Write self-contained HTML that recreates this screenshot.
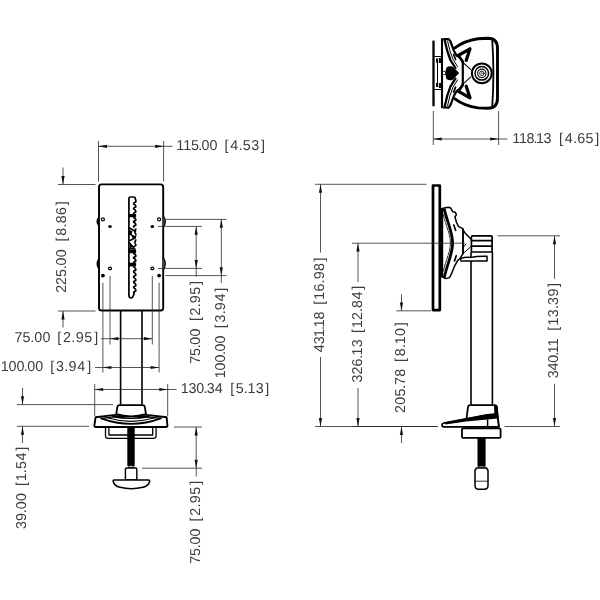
<!DOCTYPE html>
<html lang="en"><head><meta charset="utf-8"><title>Mount dimensions</title>
<style>
html,body{margin:0;padding:0;background:#fff;}
body{width:600px;height:600px;overflow:hidden;}
svg{display:block;will-change:transform;}
text{font-family:"Liberation Sans",sans-serif;font-size:14.3px;fill:#3c3c3c;text-rendering:geometricPrecision;white-space:pre;}
.d{stroke:#2a2a2a;stroke-width:.8;fill:none;}
.ah{fill:#111;stroke:none;}
.o{stroke:#000;stroke-width:1.4;fill:none;stroke-linejoin:round;stroke-linecap:round;}
.o2{stroke:#000;stroke-width:2;fill:none;stroke-linejoin:round;}
.t{stroke:#000;stroke-width:.8;fill:none;stroke-linejoin:round;stroke-linecap:round;}
.f{fill:#000;stroke:none;}
.w{fill:#fff;stroke:#000;stroke-width:1.4;stroke-linejoin:round;}
</style></head><body>
<svg width="600" height="600" viewBox="0 0 600 600">
<rect width="600" height="600" fill="#fff"/>
<g id="front">
<rect class="o" style="stroke-width:1.9" x="99" y="184.4" width="64.2" height="126.1" rx="2.6"/>
<path class="f" d="M99 216 Q94 221.5 99 227 Z"/>
<path class="t" style="stroke-width:1.2;fill:#666" d="M163.4 216 Q167.2 221.5 163.4 227"/>
<path class="f" d="M99 257.5 Q94 263.75 99 270 Z"/>
<path class="t" style="stroke-width:1.2;fill:#666" d="M163.4 257.5 Q167.2 263.75 163.4 270"/>
<circle class="t" style="stroke-width:1.2" cx="102.9" cy="219.4" r="1.5"/>
<circle class="f" cx="102.9" cy="275.6" r="1.9"/>
<circle class="t" style="stroke-width:1.2" cx="159.1" cy="219.4" r="1.5"/>
<circle class="f" cx="159.1" cy="275.6" r="1.9"/>
<ellipse class="f" cx="110" cy="226.4" rx="1.8" ry="1.5"/>
<ellipse class="t" style="stroke-width:1.2" cx="110" cy="268.4" rx="1.5" ry="1.3"/>
<ellipse class="f" cx="152.3" cy="226.4" rx="1.8" ry="1.5"/>
<ellipse class="t" style="stroke-width:1.2" cx="152.3" cy="268.4" rx="1.5" ry="1.3"/>
<path class="t" style="stroke-width:1.7" d="M128.9 198.5 Q128.9 197 130.5 197 L133.6 197 Q135.6 197 135.2 199 Q136.29999999999998 200.25 135.7 202.00 Q133.1 203.00 133.8 204.00 Q136.29999999999998 205.25 135.7 207.00 Q133.1 208.00 133.8 209.00 Q136.29999999999998 210.25 135.7 212.00 Q133.1 213.00 133.8 214.00 M128.9 198.5 L128.9 295 Q129 298 131 298 Q133 298 134.2 293 M133.8 217.5 Q136.29999999999998 218.69 135.7 220.35 Q133.1 221.30 133.8 222.25 Q136.29999999999998 223.44 135.7 225.10 Q133.1 226.05 133.8 227.00 M133.8 253.5 Q136.29999999999998 254.69 135.7 256.35 Q133.1 257.30 133.8 258.25 Q136.29999999999998 259.44 135.7 261.10 Q133.1 262.05 133.8 263.00 M133.8 267 Q136.29999999999998 268.30 135.7 270.12 Q133.1 271.16 133.8 272.20 Q136.29999999999998 273.50 135.7 275.32 Q133.1 276.36 133.8 277.40 Q136.29999999999998 278.70 135.7 280.52 Q133.1 281.56 133.8 282.60 Q136.29999999999998 283.90 135.7 285.72 Q133.1 286.76 133.8 287.80 Q136.29999999999998 289.10 135.7 290.92 Q133.1 291.96 133.8 293.00"/>
<path class="f" d="M128.5 214h7.6v3.3h-7.6z M128.5 249.6h7.6v3.6h-7.6z M128.5 262.8h7.6v3.6h-7.6z"/>
<path class="t" style="stroke-width:1.6" d="M129.5 228 L135.5 231.5 M135.8 229 Q134 232 136 234.5 M129.5 233 L134 237.5 L135.8 236 M130 240.5 L135 238 M129.6 243 L133.5 247.5 L136 245 M135.8 240 Q134 242.5 136 245 M129.8 248.5 L135 249"/>
<path class="f" d="M129 229.5 L132.5 231.5 L131 235 L129 235 Z M130 244 L133 246.5 L130 248.8 Z M133.5 235 a2 2 0 1 0 2.6 2.6 Z"/>
<path class="o" style="stroke-width:1.6;stroke-linecap:butt" d="M120.6 311 L120.6 404.5 M142 311 L142 404.5"/>
<path class="w" style="stroke-width:1.9" d="M95.6 417.2 Q131 411.5 166.6 417.2 L167.4 425.5 Q167.6 427 166 427 L95.8 427 Q94.2 427 94.4 425.5 Z"/>
<path class="t" style="stroke-width:1.8" d="M101.2 418.4 Q131 429.4 160.8 418.4"/>
<path class="t" style="stroke-width:1.3" d="M108 418 Q131 424.6 154 418 M101.2 418.4 Q131 414 160.8 418.4"/>
<path class="t" style="stroke-width:1.6" d="M113 416.6 Q131 420 149 416.6"/>
<path class="w" style="stroke-width:1.8" d="M116.2 414.2 L117.4 406.8 Q117.8 405.2 119.6 405.2 L142.6 405.2 Q144.4 405.2 144.8 406.8 L146 414.2 Q131 418.4 116.2 414.2 Z"/>
<path class="t" style="stroke-width:1.3" d="M105.5 427.8 L105.5 435.8 Q105.5 438.3 108 438.3 L153.6 438.3 Q156.1 438.3 156.1 435.8 L156.1 427.8 M108.9 427.8 L108.9 435 L152.7 435 L152.7 427.8"/>
<rect class="f" x="127.3" y="427.5" width="7.4" height="38.4"/>
<rect x="128.8" y="465.6" width="4.6" height="2.2" fill="#bbb" stroke="#000" stroke-width=".7"/>
<rect class="w" style="stroke-width:1.4" x="125.4" y="468" width="11.4" height="12" rx="1"/>
<path class="w" style="stroke-width:1.5" d="M114 480 L148.6 480 Q149.8 480 149.6 481.5 Q148.5 486 143 487.3 Q131 490 120 487.3 Q114.3 486 113.2 481.5 Q113 480 114 480 Z"/>
</g>
<g id="dims-front">
<path class="d" d="M98.5 141L98.5 181.5"/>
<path class="d" d="M163.6 141L163.6 181.5"/>
<path class="d" d="M98.5 146.3L172.5 146.3"/>
<path class="ah" d="M98.5 146.3L106.9 144.70000000000002L106.9 147.9Z"/>
<path class="ah" d="M163.6 146.3L155.2 144.70000000000002L155.2 147.9Z"/>
<text x="176.13 183.27 190.92 198.21 201.58 209.4 216.9 224.4 230.37 238.69 242.86 251.32 260.93" y="149.75">115.00 [4.53]</text>
<path class="d" d="M58 184.5L95.5 184.5"/>
<path class="d" d="M58 311L95.5 311"/>
<path class="d" d="M63 167.5L63 184.5"/>
<path class="ah" d="M63 184.5L61.4 176.1L64.6 176.1Z"/>
<path class="d" d="M63 311L63 327.5"/>
<path class="ah" d="M63 311L61.4 319.4L64.6 319.4Z"/>
<text transform="translate(66.4 0) rotate(-90)" x="-292.81 -284.97 -276.98 -269.26 -265.47 -257.3 -249.35 -241.4 -235.68 -227.5 -223.33 -215.02 -205.37" y="0">225.00 [8.86]</text>
<path class="d" d="M165.3 219.4L226.5 219.4"/>
<path class="d" d="M158 226.4L202 226.4"/>
<path class="d" d="M158 268.4L202 268.4"/>
<path class="d" d="M165.3 275.6L226.5 275.6"/>
<path class="d" d="M196.2 226.4L196.2 276.5"/>
<path class="ah" d="M196.2 226.4L194.6 234.8L197.79999999999998 234.8Z"/>
<path class="ah" d="M196.2 268.4L194.6 260.0L197.79999999999998 260.0Z"/>
<path class="d" d="M221.3 219.4L221.3 283"/>
<path class="ah" d="M221.3 219.4L219.70000000000002 227.8L222.9 227.8Z"/>
<path class="ah" d="M221.3 275.6L219.70000000000002 267.20000000000005L222.9 267.20000000000005Z"/>
<text transform="translate(200 0) rotate(-90)" x="-363.81 -355.93 -348.33 -344.66 -336.6 -328.85 -321.1 -315.45 -307.36 -303.19 -294.79 -285.07" y="0">75.00 [2.95]</text>
<text transform="translate(224.8 0) rotate(-90)" x="-378.37 -370.56 -362.6 -355.09 -351.56 -343.6 -335.95 -328.3 -322.49 -314.34 -310.19 -301.55 -291.67" y="0">100.00 [3.94]</text>
<path class="d" d="M102.9 282.7L102.9 372.5"/>
<path class="d" d="M159.1 282.7L159.1 372.5"/>
<path class="d" d="M110 276L110 344.5"/>
<path class="d" d="M152.3 276L152.3 344.5"/>
<path class="d" d="M101 338.7L152.3 338.7"/>
<path class="ah" d="M110 338.7L118.4 337.09999999999997L118.4 340.3Z"/>
<path class="ah" d="M152.3 338.7L143.9 337.09999999999997L143.9 340.3Z"/>
<path class="d" d="M95 367.5L159.1 367.5"/>
<path class="ah" d="M102.9 367.5L111.30000000000001 365.9L111.30000000000001 369.1Z"/>
<path class="ah" d="M159.1 367.5L150.7 365.9L150.7 369.1Z"/>
<text x="14.49 22.53 30.32 34.18 42.4 49.8 57.2 63.05 71.32 75.67 84.21 94.13" y="342.35">75.00 [2.95]</text>
<text x="0.83 8.57 16.46 23.87 27.31 35.2 42.7 50.2 56.07 64.29 68.5 77.18 87.13" y="371.05">100.00 [3.94]</text>
<path class="d" d="M94.7 384L94.7 416"/>
<path class="d" d="M167.7 384L167.7 416"/>
<path class="d" d="M94.7 389.5L176.5 389.5"/>
<path class="ah" d="M94.7 389.5L103.10000000000001 387.9L103.10000000000001 391.1Z"/>
<path class="ah" d="M167.7 389.5L159.29999999999998 387.9L159.29999999999998 391.1Z"/>
<text x="180.83 188.48 196.2 203.49 206.82 214.76 222.48 230.2 235.79 243.82 247.38 255.65 265.13" y="393.45">130.34 [5.13]</text>
<path class="d" d="M17 404.6L113 404.6"/>
<path class="d" d="M17 426.3L89 426.3"/>
<path class="d" d="M22.5 388L22.5 404.6"/>
<path class="ah" d="M22.5 404.6L20.9 396.20000000000005L24.1 396.20000000000005Z"/>
<path class="d" d="M22.5 426.3L22.5 443"/>
<path class="ah" d="M22.5 426.3L20.9 434.7L24.1 434.7Z"/>
<text transform="translate(25.8 0) rotate(-90)" x="-528.94 -520.88 -513.13 -509.24 -501 -493.55 -486.1 -481.04 -473.14 -469.1 -460.54 -450.87" y="0">39.00 [1.54]</text>
<path class="d" d="M174 427L202 427"/>
<path class="d" d="M142 468.2L202 468.2"/>
<path class="d" d="M196.2 427L196.2 476.5"/>
<path class="ah" d="M196.2 427L194.6 435.4L197.79999999999998 435.4Z"/>
<path class="ah" d="M196.2 468.2L194.6 459.8L197.79999999999998 459.8Z"/>
<text transform="translate(200.2 0) rotate(-90)" x="-563.82 -555.91 -548.28 -544.59 -536.5 -528.95 -521.4 -515.64 -507.44 -503.18 -494.7 -484.87" y="0">75.00 [2.95]</text>
</g>
<g id="side">
<rect class="o2" style="stroke-width:2.7" x="433" y="185.5" width="6.8" height="124.6"/>
<path class="o2" style="stroke-width:2.6" d="M441.9 208 L441.9 277.5"/>
<path class="o" style="stroke-width:1.5" d="M443 208.3 L448.5 207.3 L450.6 208 L453 211.8 L455.2 212.2 L456.4 214.6 L455 217 L456.3 221.7 L458.3 226.3 L462.3 228.3 L465 233 L469.7 237.7 L471 239"/>
<path class="o" style="stroke-width:1.5" d="M463 253.7 L460.3 258 L457.6 260.6 L454.3 266.7 L451.7 273.3 L449.5 277.6 L446.3 278.6 L443 277.3"/>
<path class="o" style="stroke-width:1.9;stroke-linecap:butt" d="M463 228.5 L463 254"/>
<path class="t" style="stroke-width:2.8" d="M444.4 209.6 C447.2 222 452.6 232 452.6 243 C452.6 254 447.2 264 444.4 277"/>
<path class="t" style="stroke-width:.9;stroke-dasharray:3 1.2" d="M443.4 215 C445.6 225 450.4 234 450.4 243 C450.4 252 445.6 261 443.4 271"/>
<path class="t" style="stroke-width:1.7" d="M453.8 225 L455.6 230.3 M456.2 255.8 L454.5 261"/>
<path class="t" style="stroke-width:1" d="M463 253.7 L471 246.5 M463 247.5 L466 244"/>
<rect class="w" style="stroke-width:1.7" x="471.4" y="235.8" width="20.7" height="16.2" rx="1"/>
<path class="o" style="stroke-width:1.8;stroke-linecap:butt" d="M471 240.6 L492.5 240.6 M471 246.1 L492.5 246.1"/>
<path class="o" style="stroke-width:1.6;stroke-linecap:butt" d="M471 252 L471 404.5 M492.4 252 L492.4 404.5"/>
<path class="w" style="stroke-width:1.5" d="M460.6 258.6 Q465 256.8 471 257.4 Q476 256 487 256.2 L487 261 L461 261 Z"/>
<path class="w" style="stroke-width:1.8" d="M466.6 418 L468 406.8 Q468.3 405.2 470 405.2 L494.5 405.2 Q496.6 405.2 496.8 407 L498.8 426.5 L466.6 426.5 Z"/>
<path class="f" d="M494 405 L496 405 Q497.4 405 497.6 407 L498.5 418 L494.5 418 Z"/>
<path class="w" style="stroke-width:1.7" d="M443.5 423 L487.5 414.8 L497.2 414 L498.8 426.8 L444 426.8 Q442 426.8 442 425 Q442.2 423.3 443.5 423 Z"/>
<path class="f" d="M444 422.6 L488.5 414 L497 413.6 L497.4 418.6 L487.5 419.4 L466 421.6 L445.5 424.6 Z"/>
<path class="o" style="stroke-width:1.5;stroke-linecap:butt" d="M487.6 419.4 L487.6 426.5"/>
<rect class="w" style="stroke-width:1.8" x="462" y="428.4" width="38.6" height="9.5" rx="1.2"/>
<rect class="f" x="477.5" y="438.2" width="8.1" height="28.4"/>
<rect x="479" y="466" width="5" height="2" fill="#bbb" stroke="#000" stroke-width=".7"/>
<path class="w" style="stroke-width:1.5" d="M476.5 468 L486.5 468 L488 470.5 L488 485.5 Q488 489.2 484.5 489.2 L478.5 489.2 Q475 489.2 475 485.5 L475 470.5 Z"/>
<path class="t" d="M475 481.2 L488 481.2"/>
</g>
<g id="dims-side">
<path class="d" d="M315 184.3L426.5 184.3"/>
<path class="d" d="M315 426.5L437.5 426.5"/>
<path class="d" d="M352 426.5L437.5 426.5"/>
<path class="d" d="M396 426.5L437.5 426.5"/>
<path class="d" d="M320.5 184.3L320.5 252.5"/>
<path class="ah" d="M320.5 184.3L318.9 192.70000000000002L322.1 192.70000000000002Z"/>
<path class="d" d="M320.5 357L320.5 426.5"/>
<path class="ah" d="M320.5 426.5L318.9 418.1L322.1 418.1Z"/>
<text transform="translate(323.9 0) rotate(-90)" x="-352.22 -344.28 -337.09 -329.94 -327.15 -319.56 -312.18 -304.8 -299.63 -291.49 -283.42 -279.36 -271.07 -261.47" y="0">431.18 [16.98]</text>
<path class="d" d="M352 243.2L465 243.2"/>
<path class="d" d="M358 243.2L358 282"/>
<path class="ah" d="M358 243.2L356.4 251.6L359.6 251.6Z"/>
<path class="d" d="M358 388L358 426.5"/>
<path class="ah" d="M358 426.5L356.4 418.1L359.6 418.1Z"/>
<text transform="translate(361.5 0) rotate(-90)" x="-382.44 -374.45 -366.54 -358.76 -355.42 -347.33 -340.16 -333 -327.97 -319.92 -312.04 -308.06 -299.51 -289.87" y="0">326.13 [12.84]</text>
<path class="d" d="M396.3 310.8L431 310.8"/>
<path class="d" d="M401.5 294.3L401.5 310.8"/>
<path class="ah" d="M401.5 310.8L399.9 302.40000000000003L403.1 302.40000000000003Z"/>
<path class="d" d="M401.5 426.5L401.5 443"/>
<path class="ah" d="M401.5 426.5L399.9 434.9L403.1 434.9Z"/>
<text transform="translate(405.4 0) rotate(-90)" x="-413.01 -404.86 -396.61 -388.72 -384.94 -376.86 -369.38 -361.9 -356.18 -347.99 -344.28 -335.9 -326.17" y="0">205.78 [8.10]</text>
<path class="d" d="M497.5 235.8L560 235.8"/>
<path class="d" d="M504.5 426.5L560 426.5"/>
<path class="d" d="M554.5 235.8L554.5 278.8"/>
<path class="ah" d="M554.5 235.8L552.9 244.20000000000002L556.1 244.20000000000002Z"/>
<path class="d" d="M554.5 383.8L554.5 426.5"/>
<path class="ah" d="M554.5 426.5L552.9 418.1L556.1 418.1Z"/>
<text transform="translate(558.3 0) rotate(-90)" x="-378.34 -370.6 -362.86 -355.81 -353.28 -346.36 -338.53 -330.7 -325.51 -317.18 -309.1 -304.91 -296.62 -287.07" y="0">340.11 [13.39]</text>
</g>
<g id="top">
<path class="o2" style="stroke-width:2.3" d="M433.5 40.6 L433.5 106.2"/>
<path class="o2" style="stroke-width:2.3" d="M442.1 38.3 L442.1 108.2"/>
<path class="t" style="stroke-width:1;stroke-linecap:butt" d="M434.5 56.5 L441 56.5 M434.5 89.5 L441 89.5 M437.5 62 L437.5 84"/>
<path class="f" d="M436 58.6 h2 v4 h-2z M436 83 h2 v4 h-2z"/>
<path class="f" d="M438.8 58 h2.4 v5 h-2.4z M438.8 83 h2.4 v5 h-2.4z"/>
<path class="o2" style="stroke-width:2.9;stroke-linecap:round" d="M455 47.8 Q464 40.8 478 38.7 L488 38.3 Q497.5 38.3 497.5 48.5 L497.5 98 Q497.5 108.3 488 108.3 L478 107.9 Q464 105.8 455 98.8"/>
<path class="t" style="stroke-width:1.8" d="M492.2 39.5 Q494.6 73.3 492.2 107.2"/>
<path class="f" d="M496.2 70.5 h1.4 v5.5 h-1.4z"/>
<path class="w" style="stroke-width:2.2" d="M443.2 39.2 L448.6 39 Q450.4 40.6 451.4 44 L454 51 L456.5 55.4 L459.7 57.4 L462.2 61 L462.8 62.4 L462.8 84.2 L462.2 85.6 L459.7 89.2 L456.5 91.2 L454 95.6 L451.4 102.6 Q450.4 106 448.6 107.6 L443.2 107.4"/>
<path class="t" style="stroke-width:2.3" d="M444.8 40.6 Q446.8 51 450.4 60 L455.4 68 M444.8 106 Q446.8 95.6 450.4 86.6 L455.4 78.6"/>
<path class="t" style="stroke-width:1" d="M447.6 41 Q449.4 51 453 59.4 L457.5 66.5 M447.6 105.6 Q449.4 95.6 453 87.2 L457.5 80"/>
<path class="t" style="stroke-width:1.7" d="M453.6 54.5 L455.6 59.5 M453.6 92.1 L455.6 87.1"/>
<path class="f" d="M446.5 67.6 Q449 65.6 452.5 66.6 L459.2 72.9 L452.5 80 Q449 81 446.5 79 Q444.6 73.3 446.5 67.6 Z"/>
<path class="w" style="stroke-width:.9" d="M443.3 71.4 L445.6 71.4 L445.6 74.6 L443.3 74.6"/>
<path class="o" style="stroke-width:3.2;stroke-linejoin:round" d="M459 55 L470 48.8 L466.2 60.4 M459 91.6 L470 97.8 L466.2 86.2"/>
<path class="o" style="stroke-width:2.6;stroke-linecap:butt" d="M456.5 55 L459.7 57.2 L462.4 61 L463 62.6 M456.5 91.6 L459.7 89.4 L462.4 85.6 L463 84"/>
<path class="t" style="stroke-width:1.1" d="M462.8 62.4 L470.6 69.4 M462.8 84.2 L470.6 77.2"/>
<circle class="w" style="stroke-width:2" cx="481.8" cy="73.3" r="9.9"/>
<circle class="t" style="stroke-width:1.5" cx="481.8" cy="73.3" r="6.8"/>
<circle class="t" style="stroke-width:1.1" cx="481.8" cy="73.3" r="4.2"/>
<circle class="t" style="stroke-width:.9" cx="481.8" cy="73.3" r="2.2"/>
<circle cx="481.8" cy="73.3" r="1" fill="#777"/>
</g>
<g id="dims-top">
<path class="d" d="M433.3 111L433.3 145"/>
<path class="d" d="M498.6 111L498.6 145"/>
<path class="d" d="M433.3 139L507.5 139"/>
<path class="ah" d="M433.3 139L441.7 137.4L441.7 140.6Z"/>
<path class="ah" d="M498.6 139L490.20000000000005 137.4L490.20000000000005 140.6Z"/>
<text x="512.13 519.07 526.48 533.52 536.09 543.57 551.24 558.9 564.84 573.14 577.14 585.51 595.13" y="142.75">118.13 [4.65]</text>
</g>
</svg>
</body></html>
